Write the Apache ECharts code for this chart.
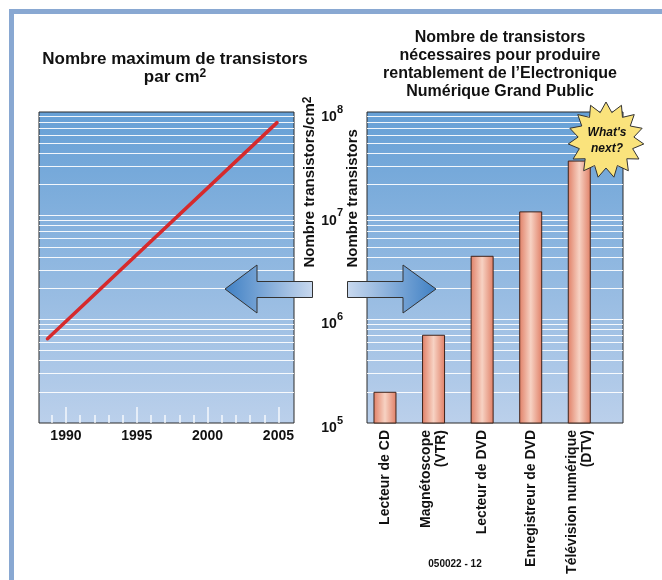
<!DOCTYPE html>
<html>
<head>
<meta charset="utf-8">
<style>
    html, body { margin: 0; padding: 0; background: #fff; }
    #chart { width: 662px; height: 580px; }
</style>
<script src="https://cdn.jsdelivr.net/npm/echarts@6/dist/echarts.min.js"></script>
</head>
<body>
<div id="chart"></div>
<script>
// Left panel: max transistors per cm2 (trend line)
const trendYears = [1988.7, 2004.9];
const trendValues = [6.5e5, 7.9e7];
const majorYears = [1990, 1995, 2000, 2005];
const minorYears = [1989, 1991, 1992, 1993, 1994, 1996, 1997, 1998, 1999, 2001, 2002, 2003, 2004];

// Right panel: transistors needed per product
const products = ['Lecteur de CD', 'Magnétoscope\n(VTR)', 'Lecteur de DVD', 'Enregistreur de DVD', 'Télévision numérique\n(DTV)'];
const productValues = [2.0e5, 7.1e5, 4.1e6, 1.1e7, 3.4e7];

// white lines drawn across both plots
const gridLines = [
    2e5, 3e5, 4e5, 5e5, 6e5, 7e5, 8e5, 9e5, 1e6,
    2e6, 3e6, 4e6, 5e6, 6e6, 7e6, 8e6, 9e6, 1e7,
    2e7, 3e7, 4e7, 5e7, 6e7, 7e7, 8e7, 9e7
];

const chart = echarts.init(document.getElementById('chart'));
const font = 'Liberation Sans, Arial, sans-serif';

const plotBg = () => new echarts.graphic.LinearGradient(0, 0, 0, 1, [
    { offset: 0, color: '#66a0d6' },
    { offset: 1, color: '#bbd0eb' }
]);

const supRich = {
    sup: { fontSize: 12, fontWeight: 'bold', fontFamily: font, color: '#111', lineHeight: 10, verticalAlign: 'top' }
};

const whiteLines = {
    silent: true,
    z: 1,
    symbol: 'none',
    animation: false,
    label: { show: false },
    lineStyle: { color: 'rgba(255,255,255,0.9)', width: 1.2, type: 'solid' },
    data: gridLines.map(v => ({ yAxis: v }))
};

// star burst points
const starPts = [];
const nPts = 15;
for (let i = 0; i < nPts * 2; i++) {
    const a = -Math.PI / 2 + i * Math.PI / nPts;
    const r = i % 2 === 0 ? 38 : 28;
    starPts.push([606 + r * Math.cos(a), 140 + r * Math.sin(a)]);
}

const option = {
    animation: false,
    backgroundColor: '#fff',
    textStyle: { fontFamily: font },
    title: [
        {
            text: 'Nombre maximum de transistors\npar cm{sup|2}',
            left: 170, top: 45, textAlign: 'center',
            textStyle: { fontSize: 17, fontWeight: 'bold', color: '#111', lineHeight: 18, fontFamily: font, rich: supRich }
        },
        {
            text: 'Nombre de transistors\nnécessaires pour produire\nrentablement de l’Electronique\nNumérique Grand Public',
            left: 495, top: 24, textAlign: 'center',
            textStyle: { fontSize: 16, fontWeight: 'bold', color: '#111', lineHeight: 18, fontFamily: font }
        }
    ],
    grid: [
        { left: 39, top: 112, width: 255, height: 311, show: true, backgroundColor: plotBg(), borderColor: '#2b2b2b', borderWidth: 1, outerBoundsMode: 'none' },
        { left: 367, top: 112, width: 256, height: 311, show: true, backgroundColor: plotBg(), borderColor: '#2b2b2b', borderWidth: 1, outerBoundsMode: 'none' }
    ],
    xAxis: [
        {
            type: 'value', gridIndex: 0, position: 'bottom', min: 1988.1, max: 2006.1,
            axisLine: { show: false },
            splitLine: { show: false },
            axisTick: { show: true, inside: true, length: 16, customValues: majorYears, lineStyle: { color: 'rgba(255,255,255,0.85)', width: 1.5 } },
            axisLabel: { customValues: majorYears, formatter: v => String(v), fontSize: 14, fontWeight: 'bold', color: '#111', margin: 6 }
        },
        {
            type: 'value', gridIndex: 0, position: 'bottom', min: 1988.1, max: 2006.1,
            axisLine: { show: false },
            splitLine: { show: false },
            axisTick: { show: true, inside: true, length: 8, customValues: minorYears, lineStyle: { color: 'rgba(255,255,255,0.85)', width: 1.5 } },
            axisLabel: { show: false }
        },
        {
            type: 'value', gridIndex: 1, position: 'bottom', min: -0.37, max: 4.9,
            axisLine: { show: false },
            splitLine: { show: false },
            axisTick: { show: false },
            axisLabel: {
                customValues: [0, 1, 2, 3, 4],
                formatter: v => products[Math.round(v)],
                rotate: 90, margin: 7, fontSize: 14, fontWeight: 'bold', color: '#111', lineHeight: 15
            }
        }
    ],
    yAxis: [
        {
            type: 'log', gridIndex: 0, position: 'right', min: 1e5, max: 1e8,
            axisLine: { show: false }, axisTick: { show: false }, axisLabel: { show: false }, splitLine: { show: false },
            name: 'Nombre transistors/cm{sup|2}', nameLocation: 'middle', nameRotate: 90, nameGap: 8,
            nameMoveOverlap: false,
            nameTextStyle: { align: 'left', fontSize: 15, fontWeight: 'bold', color: '#111', fontFamily: font, rich: supRich }
        },
        {
            type: 'log', gridIndex: 1, position: 'left', min: 1e5, max: 1e8,
            axisLine: { show: false }, axisTick: { show: false }, splitLine: { show: false },
            axisLabel: {
                margin: 24,
                padding: [4, 0, 0, 0],
                formatter: v => '{b|10}{s|' + Math.round(Math.log10(v)) + '}',
                rich: {
                    b: { fontSize: 14, fontWeight: 'bold', color: '#111', lineHeight: 20, verticalAlign: 'bottom' },
                    s: { fontSize: 11, fontWeight: 'bold', color: '#111', lineHeight: 10, verticalAlign: 'top' }
                }
            },
            name: 'Nombre transistors', nameLocation: 'middle', nameRotate: 90, nameGap: 7,
            nameMoveOverlap: false,
            nameTextStyle: { align: 'left', fontSize: 15, fontWeight: 'bold', color: '#111', fontFamily: font }
        }
    ],
    series: [
        {
            type: 'line', xAxisIndex: 0, yAxisIndex: 0, z: 1, data: [],
            markLine: whiteLines
        },
        {
            type: 'line', xAxisIndex: 0, yAxisIndex: 0, z: 3,
            data: trendYears.map((x, i) => [x, trendValues[i]]),
            symbol: 'none',
            lineStyle: { color: '#d62a2c', width: 3.5, cap: 'round' }
        },
        {
            type: 'line', xAxisIndex: 2, yAxisIndex: 1, z: 1, data: [],
            markLine: whiteLines
        },
        {
            type: 'bar', xAxisIndex: 2, yAxisIndex: 1, z: 3,
            barWidth: 23,
            data: productValues.map((v, i) => [i, v]),
            itemStyle: {
                borderColor: '#3f2219', borderWidth: 1,
                color: new echarts.graphic.LinearGradient(0, 0, 1, 0, [
                    { offset: 0, color: '#e07f66' },
                    { offset: 0.5, color: '#f7d2c3' },
                    { offset: 1, color: '#e07f66' }
                ])
            }
        }
    ],
    graphic: [
        // page frame
        { type: 'rect', z: 100, shape: { x: 9, y: 9, width: 653, height: 5 }, style: { fill: '#89a8d2' } },
        { type: 'rect', z: 100, shape: { x: 9, y: 9, width: 5, height: 571 }, style: { fill: '#89a8d2' } },
        // arrows
        {
            type: 'polygon', z: 100,
            shape: { points: [[225, 289], [257, 265], [257, 281.5], [312.5, 281.5], [312.5, 297.5], [257, 297.5], [257, 313]] },
            style: {
                stroke: '#333', lineWidth: 1,
                fill: new echarts.graphic.LinearGradient(0, 0, 1, 0, [
                    { offset: 0, color: '#3f80c4' },
                    { offset: 1, color: '#c9d9ef' }
                ])
            }
        },
        {
            type: 'polygon', z: 100,
            shape: { points: [[347.5, 281.5], [403, 281.5], [403, 265], [436, 289], [403, 313], [403, 297.5], [347.5, 297.5]] },
            style: {
                stroke: '#333', lineWidth: 1,
                fill: new echarts.graphic.LinearGradient(0, 0, 1, 0, [
                    { offset: 0, color: '#c9d9ef' },
                    { offset: 1, color: '#3f80c4' }
                ])
            }
        },
        // "What's next?" burst
        {
            type: 'polygon', z: 101,
            shape: { points: starPts },
            style: { fill: '#fae37c', stroke: '#333', lineWidth: 1 }
        },
        {
            type: 'text', z: 102, x: 607, y: 141,
            style: {
                text: "What's\nnext?", align: 'center', verticalAlign: 'middle',
                font: 'italic bold 12px ' + font, fill: '#111', lineHeight: 16
            }
        },
        {
            type: 'text', z: 100, x: 455, y: 564,
            style: { text: '050022 - 12', align: 'center', verticalAlign: 'middle', font: 'bold 10px ' + font, fill: '#111' }
        }
    ]
};

chart.setOption(option);
</script>
</body>
</html>
